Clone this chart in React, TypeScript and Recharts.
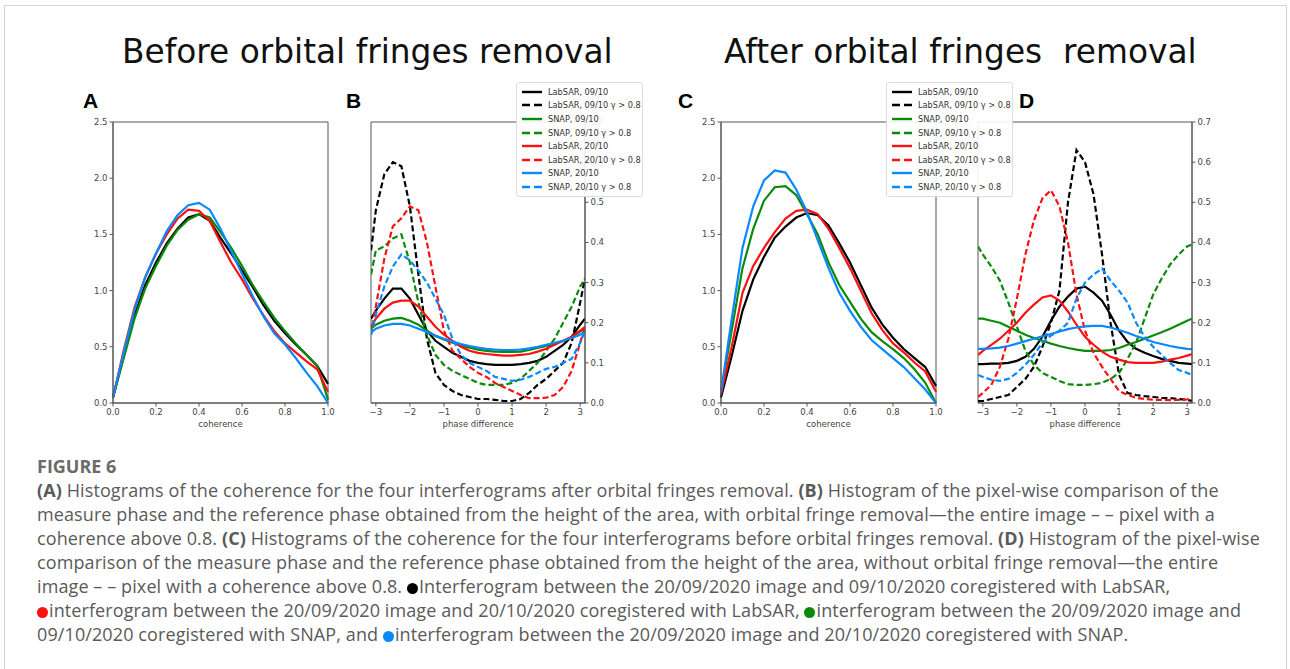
import React from 'react';
import { LineChart, Line, XAxis, YAxis, ReferenceArea } from 'recharts';

// coherence histograms (panels A and C)
const COH_X = [0, 0.05, 0.1, 0.15, 0.2, 0.25, 0.3, 0.35, 0.4, 0.45, 0.5, 0.55, 0.6, 0.65, 0.7, 0.75, 0.8, 0.85, 0.9, 0.95, 1.0];

const A_LAB_0910 = [0.05, 0.42, 0.78, 1.05, 1.25, 1.42, 1.55, 1.65, 1.68, 1.62, 1.47, 1.33, 1.18, 1.03, 0.87, 0.73, 0.62, 0.52, 0.43, 0.33, 0.17];
const A_SNAP_0910 = [0.05, 0.4, 0.75, 1.02, 1.22, 1.4, 1.54, 1.63, 1.68, 1.65, 1.52, 1.38, 1.22, 1.05, 0.9, 0.76, 0.64, 0.53, 0.43, 0.33, 0.03];
const A_LAB_2010 = [0.05, 0.47, 0.85, 1.12, 1.33, 1.5, 1.64, 1.72, 1.71, 1.62, 1.43, 1.25, 1.1, 0.93, 0.78, 0.64, 0.53, 0.45, 0.37, 0.3, 0.1];
const A_SNAP_2010 = [0.05, 0.45, 0.83, 1.12, 1.33, 1.53, 1.67, 1.76, 1.78, 1.72, 1.55, 1.35, 1.15, 0.95, 0.77, 0.62, 0.52, 0.4, 0.27, 0.15, 0.0];

const C_LAB_0910 = [0.05, 0.42, 0.82, 1.1, 1.3, 1.47, 1.57, 1.65, 1.69, 1.67, 1.58, 1.42, 1.25, 1.05, 0.85, 0.7, 0.58, 0.48, 0.4, 0.32, 0.15];
const C_SNAP_0910 = [0.1, 0.65, 1.2, 1.55, 1.8, 1.92, 1.93, 1.85, 1.68, 1.5, 1.25, 1.05, 0.9, 0.75, 0.63, 0.55, 0.48, 0.4, 0.3, 0.18, 0.0];
const C_LAB_2010 = [0.08, 0.5, 0.98, 1.22, 1.38, 1.52, 1.64, 1.71, 1.72, 1.68, 1.55, 1.38, 1.2, 1.0, 0.8, 0.65, 0.53, 0.45, 0.36, 0.28, 0.1];
const C_SNAP_2010 = [0.1, 0.75, 1.38, 1.75, 1.98, 2.07, 2.05, 1.9, 1.7, 1.45, 1.2, 0.98, 0.82, 0.68, 0.56, 0.48, 0.4, 0.32, 0.22, 0.12, 0.0];

// phase difference histograms (panels B and D)
const PHASE_X = [-3.14, -3, -2.75, -2.5, -2.25, -2, -1.75, -1.5, -1.25, -1, -0.75, -0.5, -0.25, 0, 0.25, 0.5, 0.75, 1, 1.25, 1.5, 1.75, 2, 2.25, 2.5, 2.75, 3, 3.14];

const B_LAB_0910 = [0.21, 0.23, 0.26, 0.285, 0.285, 0.26, 0.22, 0.18, 0.155, 0.14, 0.125, 0.115, 0.105, 0.1, 0.097, 0.095, 0.095, 0.095, 0.097, 0.1, 0.105, 0.115, 0.13, 0.145, 0.165, 0.195, 0.21];
const B_LAB_0910_HI = [0.38, 0.48, 0.57, 0.6, 0.59, 0.49, 0.32, 0.16, 0.075, 0.045, 0.03, 0.02, 0.015, 0.01, 0.01, 0.008, 0.005, 0.005, 0.01, 0.025, 0.045, 0.06, 0.08, 0.1, 0.15, 0.25, 0.31];
const B_SNAP_0910 = [0.185, 0.195, 0.205, 0.21, 0.212, 0.205, 0.195, 0.18, 0.167, 0.158, 0.15, 0.143, 0.138, 0.133, 0.13, 0.128, 0.127, 0.127, 0.128, 0.132, 0.137, 0.142, 0.148, 0.155, 0.163, 0.178, 0.185];
const B_SNAP_0910_HI = [0.32, 0.38, 0.39, 0.41, 0.42, 0.35, 0.25, 0.17, 0.12, 0.095, 0.08, 0.07, 0.06, 0.05, 0.045, 0.045, 0.045, 0.05, 0.06, 0.08, 0.1, 0.13, 0.16, 0.2, 0.24, 0.29, 0.31];
const B_LAB_2010 = [0.19, 0.21, 0.235, 0.25, 0.255, 0.255, 0.24, 0.215, 0.19, 0.17, 0.155, 0.14, 0.13, 0.125, 0.122, 0.12, 0.118, 0.118, 0.12, 0.122, 0.128, 0.135, 0.145, 0.155, 0.165, 0.18, 0.19];
const B_LAB_2010_HI = [0.17, 0.24, 0.36, 0.44, 0.46, 0.49, 0.48, 0.4, 0.29, 0.18, 0.13, 0.11, 0.09, 0.075, 0.065, 0.05, 0.04, 0.03, 0.02, 0.012, 0.012, 0.013, 0.02, 0.04, 0.08, 0.15, 0.19];
const B_SNAP_2010 = [0.175, 0.185, 0.193, 0.197, 0.197, 0.193, 0.185, 0.177, 0.168, 0.16, 0.153, 0.147, 0.142, 0.138, 0.135, 0.133, 0.132, 0.132, 0.133, 0.136, 0.14, 0.145, 0.15, 0.155, 0.162, 0.17, 0.176];
const B_SNAP_2010_HI = [0.17, 0.22, 0.29, 0.34, 0.37, 0.355, 0.33, 0.3, 0.26, 0.22, 0.16, 0.12, 0.1, 0.09, 0.08, 0.065, 0.06, 0.055, 0.058, 0.065, 0.075, 0.085, 0.09, 0.1, 0.11, 0.15, 0.18];

const D_LAB_0910 = [0.097, 0.097, 0.098, 0.098, 0.1, 0.105, 0.115, 0.135, 0.165, 0.205, 0.24, 0.265, 0.285, 0.29, 0.275, 0.255, 0.22, 0.18, 0.152, 0.135, 0.125, 0.117, 0.11, 0.105, 0.1, 0.098, 0.097];
const D_LAB_0910_HI = [0.005, 0.005, 0.01, 0.015, 0.02, 0.04, 0.06, 0.09, 0.14, 0.2, 0.28, 0.5, 0.63, 0.6, 0.52, 0.37, 0.2, 0.07, 0.025, 0.02, 0.017, 0.015, 0.013, 0.012, 0.01, 0.008, 0.005];
const D_SNAP_0910 = [0.21, 0.21, 0.205, 0.2, 0.19, 0.18, 0.17, 0.162, 0.155, 0.148, 0.142, 0.137, 0.133, 0.13, 0.13, 0.13, 0.132, 0.137, 0.145, 0.152, 0.16, 0.168, 0.176, 0.185, 0.195, 0.205, 0.21];
const D_SNAP_0910_HI = [0.39, 0.37, 0.34, 0.305, 0.25, 0.19, 0.13, 0.095, 0.075, 0.065, 0.055, 0.047, 0.045, 0.045, 0.047, 0.05, 0.06, 0.075, 0.11, 0.15, 0.21, 0.27, 0.31, 0.345, 0.37, 0.39, 0.395];
const D_LAB_2010 = [0.12, 0.13, 0.145, 0.16, 0.18, 0.2, 0.225, 0.245, 0.263, 0.268, 0.255, 0.228, 0.195, 0.165, 0.145, 0.128, 0.115, 0.108, 0.102, 0.1, 0.1, 0.1, 0.103, 0.108, 0.112, 0.118, 0.122];
const D_LAB_2010_HI = [0.015, 0.025, 0.045, 0.09, 0.16, 0.26, 0.37, 0.455, 0.51, 0.53, 0.49, 0.4, 0.27, 0.18, 0.125, 0.09, 0.06, 0.03, 0.02, 0.013, 0.01, 0.008, 0.008, 0.007, 0.008, 0.009, 0.01];
const D_SNAP_2010 = [0.135, 0.135, 0.136, 0.138, 0.142, 0.148, 0.154, 0.16, 0.166, 0.172, 0.178, 0.184, 0.188, 0.191, 0.192, 0.192, 0.188, 0.182, 0.175, 0.167, 0.16, 0.152, 0.147, 0.142, 0.138, 0.135, 0.134];
const D_SNAP_2010_HI = [0.07, 0.065, 0.058, 0.055, 0.06, 0.075, 0.095, 0.12, 0.15, 0.168, 0.18, 0.2, 0.26, 0.3, 0.32, 0.335, 0.305, 0.28, 0.25, 0.2, 0.165, 0.14, 0.12, 0.1, 0.082, 0.075, 0.07];

const COH_TICKS = [0, 0.2, 0.4, 0.6, 0.8, 1.0];
const COH_Y_TICKS = [0, 0.5, 1.0, 1.5, 2.0, 2.5];
const PHASE_TICKS = [-3, -2, -1, 0, 1, 2, 3];
const PHASE_Y_TICKS = [0, 0.1, 0.2, 0.3, 0.4, 0.5, 0.6, 0.7];

const LEGEND_NAMES = [
  'LabSAR, 09/10', 'LabSAR, 09/10 \u03b3 > 0.8',
  'SNAP, 09/10', 'SNAP, 09/10 \u03b3 > 0.8',
  'LabSAR, 20/10', 'LabSAR, 20/10 \u03b3 > 0.8',
  'SNAP, 20/10', 'SNAP, 20/10 \u03b3 > 0.8',
];

const BLACK = '#000000';
const GREEN = '#0a8a0a';
const RED = '#ff1010';
const BLUE = '#0a88ff';
const LEGEND_COLORS = [BLACK, BLACK, GREEN, GREEN, RED, RED, BLUE, BLUE];

const tickStyle = { fontSize: 8.5, fill: '#444', fontFamily: 'DejaVu Sans' };
const AXIS = '#555';
const DASH = '6 3';

const fmt1 = (v: number) => v.toFixed(1);
const fmtInt = (v: number) => (v < 0 ? '\u2212' + Math.abs(v) : String(v));

const cohData = (cols: number[][]) =>
  COH_X.map((x, i) => ({ x, s0: cols[0][i], s1: cols[1][i], s2: cols[2][i], s3: cols[3][i] }));

const phaseData = (cols: number[][]) =>
  PHASE_X.map((x, i) => {
    const row: Record<string, number> = { x };
    cols.forEach((c, k) => { row['s' + k] = c[i]; });
    return row;
  });

const dataA = cohData([A_LAB_0910, A_SNAP_0910, A_LAB_2010, A_SNAP_2010]);
const dataC = cohData([C_LAB_0910, C_SNAP_0910, C_LAB_2010, C_SNAP_2010]);
const dataB = phaseData([B_LAB_0910, B_LAB_0910_HI, B_SNAP_0910, B_SNAP_0910_HI, B_LAB_2010, B_LAB_2010_HI, B_SNAP_2010, B_SNAP_2010_HI]);
const dataD = phaseData([D_LAB_0910, D_LAB_0910_HI, D_SNAP_0910, D_SNAP_0910_HI, D_LAB_2010, D_LAB_2010_HI, D_SNAP_2010, D_SNAP_2010_HI]);

const CohPanel = ({ data, left }: { data: any[]; left: number }) => (
  <div style={{ position: 'absolute', left, top: 117 }}>
    <LineChart width={262} height={316} data={data} margin={{ top: 5, right: 17, left: 0, bottom: 0 }}>
      <XAxis
        dataKey="x" type="number" domain={[0, 1]} ticks={COH_TICKS} tickFormatter={fmt1}
        tick={tickStyle} tickSize={3.5} stroke={AXIS} height={30} interval={0}
        label={{ value: 'coherence', position: 'insideBottom', offset: 6, style: { fontSize: 8.5, fill: '#444', fontFamily: 'DejaVu Sans' } }}
      />
      <YAxis
        type="number" domain={[0, 2.5]} ticks={COH_Y_TICKS} tickFormatter={fmt1}
        tick={tickStyle} tickSize={3.5} stroke={AXIS} width={30} interval={0}
      />
      <ReferenceArea x1={0} x2={1} y1={0} y2={2.5} fill="none" stroke={AXIS} strokeWidth={1} />
      <Line dataKey="s0" stroke={BLACK} strokeWidth={2.2} dot={false} isAnimationActive={false} />
      <Line dataKey="s1" stroke={GREEN} strokeWidth={2.2} dot={false} isAnimationActive={false} />
      <Line dataKey="s2" stroke={RED} strokeWidth={2.2} dot={false} isAnimationActive={false} />
      <Line dataKey="s3" stroke={BLUE} strokeWidth={2.2} dot={false} isAnimationActive={false} />
    </LineChart>
  </div>
);

const PhasePanel = ({ data, left }: { data: any[]; left: number }) => (
  <div style={{ position: 'absolute', left, top: 117 }}>
    <LineChart width={249} height={316} data={data} margin={{ top: 5, right: 0, left: 5, bottom: 0 }}>
      <XAxis
        dataKey="x" type="number" domain={[-Math.PI, Math.PI]} ticks={PHASE_TICKS} tickFormatter={fmtInt}
        tick={tickStyle} tickSize={3.5} stroke={AXIS} height={30} interval={0} allowDataOverflow
        label={{ value: 'phase difference', position: 'insideBottom', offset: 6, style: { fontSize: 8.5, fill: '#444', fontFamily: 'DejaVu Sans' } }}
      />
      <YAxis
        orientation="right" type="number" domain={[0, 0.7]} ticks={PHASE_Y_TICKS} tickFormatter={fmt1}
        tick={tickStyle} tickSize={3.5} stroke={AXIS} width={30} interval={0}
      />
      <ReferenceArea x1={-Math.PI} x2={Math.PI} y1={0} y2={0.7} fill="none" stroke={AXIS} strokeWidth={1} />
      {LEGEND_COLORS.map((c, k) => (
        <Line
          key={k} dataKey={'s' + k} stroke={c} strokeWidth={2.2}
          strokeDasharray={k % 2 === 1 ? DASH : undefined} dot={false} isAnimationActive={false}
        />
      ))}
    </LineChart>
  </div>
);

const PlotLegend = ({ left, top }: { left: number; top: number }) => (
  <div
    style={{
      position: 'absolute', left, top, width: 121, padding: '2px 0 2px 4px',
      border: '1px solid #dcdcdc', borderRadius: 3, background: 'rgba(255,255,255,0.9)',
      fontFamily: 'DejaVu Sans', fontSize: 8.2, color: '#333',
    }}
  >
    {LEGEND_NAMES.map((name, k) => (
      <div key={k} style={{ display: 'flex', alignItems: 'center', height: 13.6 }}>
        <svg width={22} height={6} style={{ marginRight: 5 }}>
          <line x1={1} y1={3} x2={21} y2={3} stroke={LEGEND_COLORS[k]} strokeWidth={2.4}
            strokeDasharray={k % 2 === 1 ? '8 4' : undefined} />
        </svg>
        <span style={{ whiteSpace: 'nowrap' }}>{name}</span>
      </div>
    ))}
  </div>
);

const titleStyle: React.CSSProperties = {
  position: 'absolute', top: 33, fontFamily: 'DejaVu Sans', fontSize: 32.8, color: '#111', whiteSpace: 'pre',
};
const letterStyle: React.CSSProperties = {
  position: 'absolute', top: 89, fontFamily: 'Liberation Sans, Arial', fontWeight: 'bold', fontSize: 21, color: '#000',
};

const Dot = ({ c }: { c: string }) => (
  <span style={{ display: 'inline-block', width: 11, height: 11, borderRadius: '50%', background: c, marginRight: 1, verticalAlign: '-1px' }} />
);

const CAPTION_LINES: React.ReactNode[] = [
  <><b>(A)</b> Histograms of the coherence for the four interferograms after orbital fringes removal. <b>(B)</b> Histogram of the pixel-wise comparison of the</>,
  <>measure phase and the reference phase obtained from the height of the area, with orbital fringe removal—the entire image – – pixel with a</>,
  <>coherence above 0.8. <b>(C)</b> Histograms of the coherence for the four interferograms before orbital fringes removal. <b>(D)</b> Histogram of the pixel-wise</>,
  <>comparison of the measure phase and the reference phase obtained from the height of the area, without orbital fringe removal—the entire</>,
  <>image – – pixel with a coherence above 0.8. <Dot c={BLACK} />Interferogram between the 20/09/2020 image and 09/10/2020 coregistered with LabSAR,</>,
  <><Dot c={RED} />interferogram between the 20/09/2020 image and 20/10/2020 coregistered with LabSAR, <Dot c={GREEN} />interferogram between the 20/09/2020 image and</>,
  <>09/10/2020 coregistered with SNAP, and <Dot c={BLUE} />interferogram between the 20/09/2020 image and 20/10/2020 coregistered with SNAP.</>,
];

export default function App() {
  return (
    <div style={{ position: 'absolute', left: 0, top: 0, width: 1290, height: 669, background: '#fff', overflow: 'hidden' }}>
      <div style={{ position: 'absolute', left: 4, top: 5, width: 1281, height: 700, border: '1px solid #d4d4d4' }} />

      <div style={{ ...titleStyle, left: 122 }}>Before orbital fringes removal</div>
      <div style={{ ...titleStyle, left: 724 }}>After orbital fringes  removal</div>

      <div style={{ ...letterStyle, left: 83 }}>A</div>
      <div style={{ ...letterStyle, left: 346 }}>B</div>
      <div style={{ ...letterStyle, left: 678 }}>C</div>
      <div style={{ ...letterStyle, left: 1019 }}>D</div>

      <CohPanel data={dataA} left={83} />
      <PhasePanel data={dataB} left={366} />
      <CohPanel data={dataC} left={691} />
      <PhasePanel data={dataD} left={973} />

      <PlotLegend left={516} top={82} />
      <PlotLegend left={886} top={82} />

      <div style={{ position: 'absolute', left: 37, top: 454, fontFamily: 'Open Sans', fontWeight: 'bold', fontSize: 18, color: '#6a6a6a' }}>FIGURE 6</div>
      <div style={{ position: 'absolute', left: 37, top: 478, fontFamily: 'Open Sans', fontSize: 18, lineHeight: '24px', letterSpacing: 0.1, color: '#5a5a5a' }}>
        {CAPTION_LINES.map((l, i) => (
          <div key={i} style={{ whiteSpace: 'nowrap' }}>{l}</div>
        ))}
      </div>
    </div>
  );
}
